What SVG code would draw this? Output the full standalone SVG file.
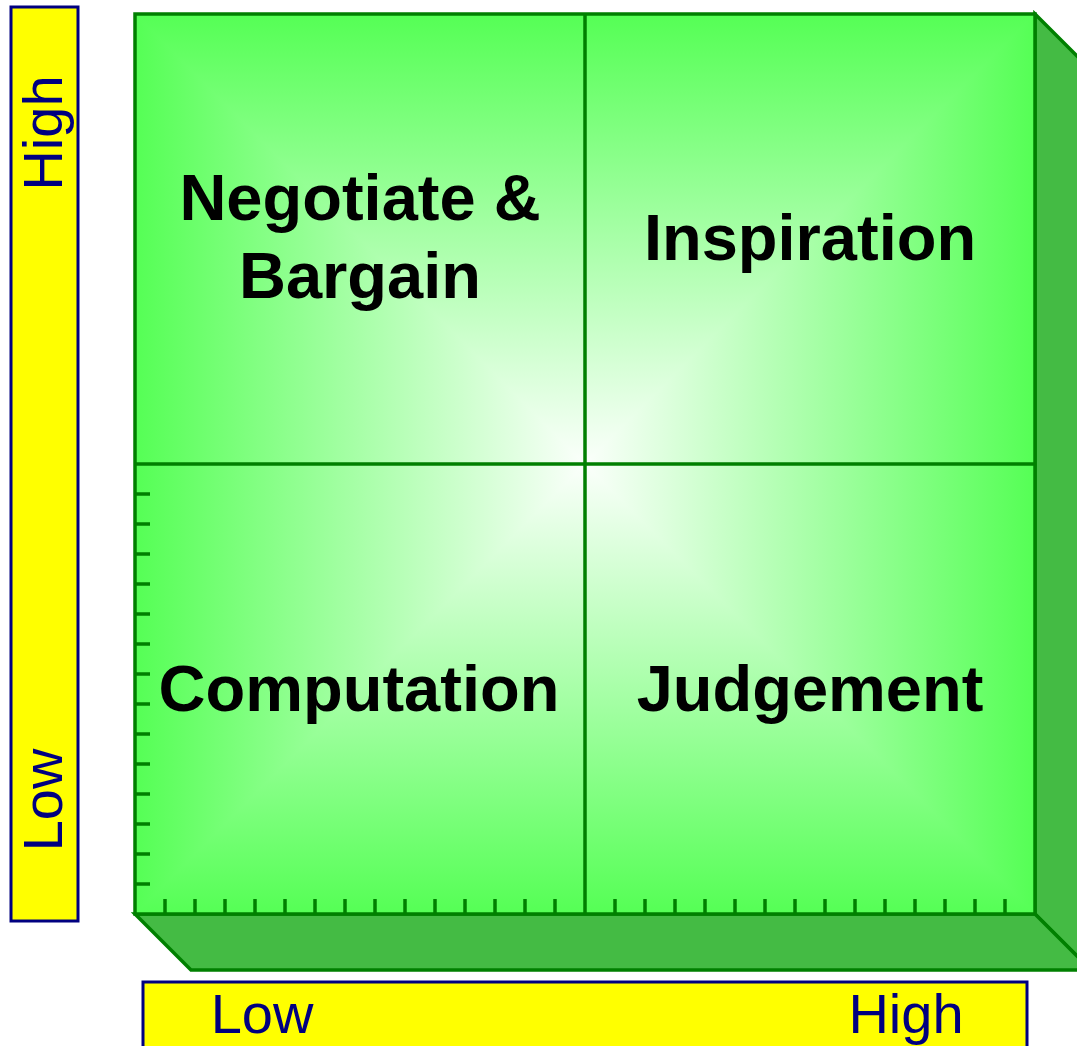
<svg xmlns="http://www.w3.org/2000/svg" width="1077" height="1046" viewBox="0 0 1077 1046">
  <defs>
    <!-- square-contour glow: horizontal ramp on the whole face, vertical ramp on the top/bottom wedges -->
    <linearGradient id="rampX" gradientUnits="userSpaceOnUse" x1="135" y1="0" x2="1035" y2="0">
      <stop offset="0" stop-color="#55ff55"/>
      <stop offset="0.5" stop-color="#fbfffb"/>
      <stop offset="1" stop-color="#55ff55"/>
    </linearGradient>
    <linearGradient id="rampY" gradientUnits="userSpaceOnUse" x1="0" y1="14" x2="0" y2="914">
      <stop offset="0" stop-color="#55ff55"/>
      <stop offset="0.5" stop-color="#fbfffb"/>
      <stop offset="1" stop-color="#55ff55"/>
    </linearGradient>
  </defs>
  <style>
    .edge { stroke: #008000; stroke-width: 3.5; stroke-linejoin: miter; }
    .side { fill: #44bb44; }
    .grid { stroke: #008000; stroke-width: 3.5; fill: none; }
    .tick { stroke: #008000; stroke-width: 3.5; }
    .axis { fill: #ffff00; stroke: #000080; stroke-width: 3; }
    .axisText { font-family: "Liberation Sans", Arial, sans-serif; font-size: 56px; fill: #000080; }
    .label { font-family: "Liberation Sans", Arial, sans-serif; font-size: 65px; font-weight: bold; fill: #000000; text-anchor: middle; }
  </style>

  <rect width="1077" height="1046" fill="#ffffff"/>

  <!-- vertical axis bar -->
  <g id="axis-y">
    <rect class="axis" x="11" y="7" width="67" height="914"/>
    <text class="axisText" text-anchor="middle" transform="translate(62,133) rotate(-90)">High</text>
    <text class="axisText" text-anchor="middle" transform="translate(62,800) rotate(-90)">Low</text>
  </g>

  <!-- horizontal axis bar -->
  <g id="axis-x">
    <rect class="axis" x="143" y="982" width="884" height="80"/>
    <text class="axisText" text-anchor="middle" x="262" y="1033">Low</text>
    <text class="axisText" text-anchor="middle" x="906" y="1033">High</text>
  </g>

  <!-- box: extruded sides, glowing front face, quadrant grid and ticks -->
  <g id="box">
    <polygon class="side edge" points="1035,14 1091,70 1091,970 1035,914"/>
    <polygon class="side edge" points="135,914 1035,914 1091,970 191,970"/>
    <rect x="135" y="14" width="900" height="900" fill="url(#rampX)"/>
    <path d="M135,14 L1035,14 L585,464 Z M135,914 L1035,914 L585,464 Z" fill="url(#rampY)"/>
    <rect class="grid" x="135" y="14" width="900" height="900"/>
    <g id="ticks">
      <path class="tick" d="M135,494h15M135,524h15M135,554h15M135,584h15M135,614h15M135,644h15M135,674h15M135,704h15M135,734h15M135,764h15M135,794h15M135,824h15M135,854h15M135,884h15"/>
      <path class="tick" d="M165,914v-15M195,914v-15M225,914v-15M255,914v-15M285,914v-15M315,914v-15M345,914v-15M375,914v-15M405,914v-15M435,914v-15M465,914v-15M495,914v-15M525,914v-15M555,914v-15M615,914v-15M645,914v-15M675,914v-15M705,914v-15M735,914v-15M765,914v-15M795,914v-15M825,914v-15M855,914v-15M885,914v-15M915,914v-15M945,914v-15M975,914v-15M1005,914v-15"/>
    </g>
  </g>

  <!-- quadrant dividers -->
  <g id="dividers">
    <path class="grid" d="M585,14 V914 M135,464 H1035"/>
  </g>

  <!-- quadrant labels -->
  <g id="q-negotiate">
    <text class="label" x="360" y="220">Negotiate &amp;</text>
    <text class="label" x="360" y="298">Bargain</text>
  </g>
  <g id="q-inspiration">
    <text class="label" x="810" y="260">Inspiration</text>
  </g>
  <g id="q-computation">
    <text class="label" x="359" y="711">Computation</text>
  </g>
  <g id="q-judgement">
    <text class="label" x="810" y="711">Judgement</text>
  </g>
</svg>
